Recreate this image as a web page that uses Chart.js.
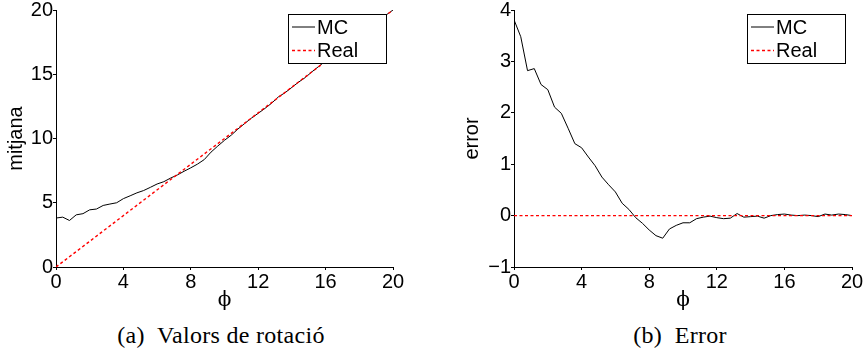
<!DOCTYPE html>
<html>
<head>
<meta charset="utf-8">
<script src="https://cdn.jsdelivr.net/npm/chart.js@4"></script>
<style>
  body { margin: 0; background: #fff; width: 868px; height: 360px; position: relative; overflow: hidden; }
  .box { position: absolute; top: 0; width: 420px; height: 313px; }
  .caption { position: absolute; top: 322px; font-family: "Liberation Serif", serif; font-size: 24px; letter-spacing: 0.3px; color: #000; white-space: nowrap; transform: translateX(-50%); }
</style>
</head>
<body>
<div class="box" style="left:0"><canvas id="meanChart"></canvas></div>
<div class="box" style="left:448px"><canvas id="errorChart"></canvas></div>
<div class="caption" style="left:221px">(a)&nbsp; Valors de rotació</div>
<div class="caption" style="left:680px">(b)&nbsp; Error</div>
<script>
// phi values of the Monte Carlo run
const phi = [0, 0.4, 0.8, 1.2, 1.6, 2, 2.4, 2.8, 3.2, 3.6, 4, 4.4, 4.8, 5.2, 5.6, 6, 6.4, 6.8, 7.2, 7.6,
  8, 8.4, 8.8, 9.2, 9.6, 10, 10.4, 10.8, 11.2, 11.6, 12, 12.4, 12.8, 13.2, 13.6, 14, 14.4, 14.8, 15.2, 15.6,
  16, 16.4, 16.8, 17.2, 17.6, 18, 18.4, 18.8, 19.2, 19.6, 20];
const meanMC = [3.81, 3.88, 3.62, 4.06, 4.15, 4.45, 4.51, 4.79, 4.9, 5.0, 5.32, 5.54, 5.77, 5.95, 6.2, 6.46, 6.64, 6.92, 7.16, 7.45,
  7.72, 8.01, 8.36, 8.94, 9.41, 9.86, 10.26, 10.74, 11.17, 11.59, 11.96, 12.34, 12.75, 13.24, 13.57, 13.98, 14.39, 14.75, 15.2, 15.62,
  16.03, 16.41, 16.8, 17.21, 17.6, 17.98, 18.43, 18.81, 19.23, 19.62, 20];
const errorMC = [3.81, 3.48, 2.82, 2.86, 2.55, 2.45, 2.11, 1.99, 1.7, 1.4, 1.32, 1.14, 0.97, 0.75, 0.6, 0.46, 0.24, 0.12, -0.04, -0.15,
  -0.28, -0.39, -0.44, -0.26, -0.19, -0.14, -0.14, -0.06, -0.03, -0.01, -0.04, -0.06, -0.05, 0.04, -0.03, -0.02, -0.01, -0.05, 0, 0.02,
  0.03, 0.01, 0, 0.01, 0, -0.02, 0.03, 0.01, 0.03, 0.02, 0];
const realPhi = [0, 20];
const realMean = [0, 20];
const realError = [0, 0];
const xTicks = [0, 4, 8, 12, 16, 20];

const sans = 'Liberation Sans, Arial, sans-serif';
const pts = (xs, ys) => xs.map((x, i) => ({ x: x, y: ys[i] }));

// white legend box drawn over the data, like matlab
const boxLegend = {
  id: 'boxLegend',
  afterDatasetsDraw(chart) {
    const ctx = chart.ctx;
    const area = chart.chartArea;
    const w = 98, h = 49;
    const x = Math.round(area.right - 7 - w), y = Math.round(area.top + 4);
    ctx.save();
    ctx.fillStyle = '#fff';
    ctx.fillRect(x, y, w, h);
    ctx.strokeStyle = '#000';
    ctx.lineWidth = 1;
    ctx.strokeRect(x + 0.5, y + 0.5, w, h);
    ctx.font = '20px ' + sans;
    ctx.textBaseline = 'middle';
    chart.data.datasets.forEach((ds, i) => {
      const ly = y + 13 + i * 23.5;
      ctx.strokeStyle = ds.borderColor;
      ctx.lineWidth = ds.borderWidth;
      ctx.setLineDash(ds.borderDash || []);
      ctx.beginPath();
      ctx.moveTo(x + 4, ly);
      ctx.lineTo(x + 27, ly);
      ctx.stroke();
      ctx.fillStyle = '#000';
      ctx.fillText(ds.label, x + 29, ly + 1);
    });
    ctx.restore();
  }
};

function makeChart(id, mcY, realY, yMin, yMax, yStep, yTitle, yWidth, yTitlePad) {
  return new Chart(document.getElementById(id), {
    type: 'line',
    data: {
      datasets: [
        { label: 'MC', data: pts(phi, mcY), borderColor: '#000', borderWidth: 1, pointRadius: 0, tension: 0, order: 1 },
        { label: 'Real', data: pts(realPhi, realY), borderColor: '#ff0000', borderWidth: 1.4, borderDash: [3, 2.5], pointRadius: 0, tension: 0, order: 0 }
      ]
    },
    options: {
      responsive: true,
      maintainAspectRatio: false,
      animation: false,
      layout: { padding: { top: 10, right: id === 'meanChart' ? 27 : 16, bottom: 0, left: 0 } },
      plugins: { legend: { display: false }, tooltip: { enabled: false } },
      scales: {
        x: {
          type: 'linear', min: 0, max: 20,
          afterBuildTicks: s => { s.ticks = xTicks.map(v => ({ value: v })); },
          afterFit: s => { s.height = 46; },
          grid: { drawOnChartArea: false, drawTicks: true, tickLength: 3, color: '#000' },
          border: { display: true, color: '#000', width: 1 },
          ticks: { color: '#000', padding: 2, maxRotation: 0, font: { family: sans, size: 20, lineHeight: 1 } },
          title: { display: true, text: 'ϕ', color: '#000', padding: 0, font: { family: 'DejaVu Serif, serif', size: 20, lineHeight: 1.2 } }
        },
        y: {
          type: 'linear', min: yMin, max: yMax,
          ticks: { stepSize: yStep, color: '#000', padding: 0, font: { family: sans, size: 20, lineHeight: 1 },
            callback: v => String(v).replace('-', '\u2212') },
          afterFit: s => { s.width = yWidth; },
          grid: { drawOnChartArea: false, drawTicks: true, tickLength: 3, color: '#000' },
          border: { display: true, color: '#000', width: 1 },
          title: { display: true, text: yTitle, color: '#000', padding: { top: yTitlePad, bottom: 0 }, font: { family: sans, size: 20, lineHeight: 1.2 } }
        }
      }
    },
    plugins: [boxLegend]
  });
}

makeChart('meanChart', meanMC, realMean, 0, 20, 5, 'mitjana', 56, 4);
makeChart('errorChart', errorMC, realError, -1, 4, 1, 'error', 66, 12);
</script>
</body>
</html>
